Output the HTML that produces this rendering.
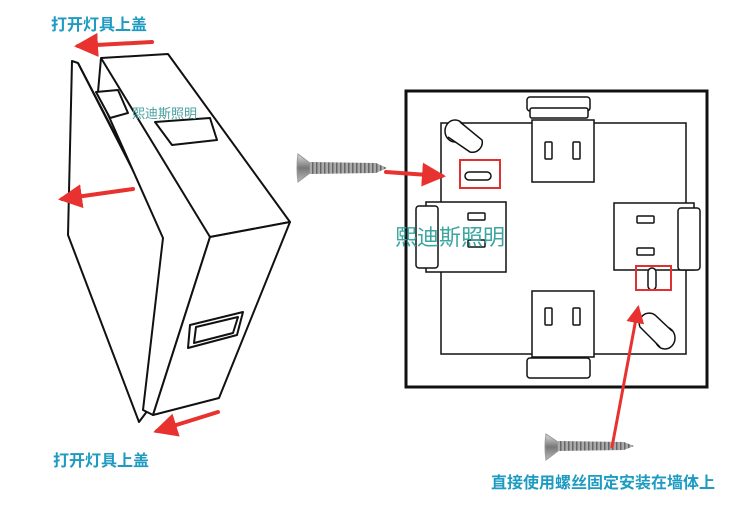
<!DOCTYPE html>
<html><head><meta charset="utf-8"><style>
body{margin:0;background:#fff;width:750px;height:511px;overflow:hidden}
svg{display:block}
text{font-family:"Liberation Sans","Noto Sans CJK SC",sans-serif}
</style></head><body>
<svg width="750" height="511" viewBox="0 0 750 511">
<defs>
<linearGradient id="sg" x1="0" y1="0" x2="0" y2="1"><stop offset="0" stop-color="#ddd"/><stop offset=".5" stop-color="#777"/><stop offset="1" stop-color="#bbb"/></linearGradient>
<pattern id="th" width="4" height="12" patternUnits="userSpaceOnUse"><rect width="4" height="12" fill="#aaa"/><rect width="1.5" height="12" fill="#666"/></pattern>
<marker id="ah" markerWidth="6" markerHeight="6" refX="5" refY="3" orient="auto" markerUnits="strokeWidth"><path d="M0,0 L6,3 L0,6 Z" fill="#e8322f"/></marker>
</defs>
<g fill="none" stroke="#111" stroke-width="2" stroke-linejoin="round">
<polygon points="72,61 68,235 139,422 148,410 166,235 78,63" fill="#fff"/>
<polyline points="78,63 168,236 150,412"/>
<polygon points="101,58 168,54 290,222 210,237 153,415 143,410 163,238 98,92" fill="#fff"/>
<polyline points="101,58 210,237"/>
<polygon points="210,237 290,222 219,398 153,415" fill="#fff"/>
<polygon points="96,92 118,90 128,113 110,118" fill="#fff"/>
<polygon points="155,122 210,118 217,140 172,145" fill="#fff"/>
<polygon points="190,325 243,312 237,335 188,348" fill="#fff"/>
<polygon points="196,327 238,317 233,333 194,343"/>
</g>
<g fill="#fff" stroke="#111" stroke-width="1.5">
<rect x="406" y="91" width="301" height="296" stroke-width="3"/>
<rect x="441" y="123" width="245" height="231"/>
<rect x="532" y="120" width="62" height="62"/>
<rect x="527" y="97" width="63" height="14" rx="3"/>
<rect x="530" y="108" width="58" height="10" rx="2"/>
<rect x="545" y="142" width="7" height="17" rx="1"/><rect x="573" y="142" width="7" height="17" rx="1"/>
<rect x="532" y="291" width="62" height="66"/>
<rect x="527" y="358" width="63" height="20" rx="3"/>
<rect x="545" y="308" width="7" height="17" rx="1"/><rect x="573" y="308" width="7" height="17" rx="1"/>
<rect x="426" y="202" width="80" height="70"/>
<rect x="416" y="206" width="22" height="62" rx="3"/>
<rect x="468" y="213" width="17" height="7" rx="1"/><rect x="468" y="240" width="17" height="7" rx="1"/>
<rect x="614" y="203" width="80" height="67"/>
<rect x="678" y="208" width="22" height="62" rx="3"/>
<rect x="637" y="216" width="17" height="7" rx="1"/><rect x="637" y="248" width="17" height="7" rx="1"/>
<ellipse cx="455" cy="131" rx="10" ry="11"/><path d="M460,122 L482,140 A10,10 0 0 1 470,152 L448,137"/>
<ellipse cx="665" cy="338" rx="10" ry="11"/><path d="M660,347 L640,327 A10,10 0 0 1 655,315 L672,331"/>
<rect x="465" y="172" width="26" height="8" rx="4"/>
<rect x="648" y="268" width="8" height="22" rx="4"/>
</g>
<rect x="460" y="160" width="40" height="28" fill="none" stroke="#e03030" stroke-width="2"/>
<rect x="636" y="266" width="35" height="24" fill="none" stroke="#e03030" stroke-width="2"/>
<g>
<path d="M298,154 Q296,168 298,182 L310,173 L310,163 Z" fill="url(#sg)" stroke="#999"/>
<path d="M310,162 L376,163 L387,168 L376,173 L310,174 Z" fill="url(#th)"/>
<path d="M546,434 Q544,447 546,460 L558,451 L558,442 Z" fill="url(#sg)" stroke="#999"/>
<path d="M558,441 L624,442 L634,446 L624,450 L558,451 Z" fill="url(#th)"/>
</g>
<g stroke="#e8322f" stroke-width="4" fill="none" stroke-linecap="round">
<line x1="152" y1="42" x2="78" y2="46" marker-end="url(#ah)"/>
<line x1="133" y1="189" x2="62" y2="199" marker-end="url(#ah)"/>
<line x1="218" y1="412" x2="157" y2="431" marker-end="url(#ah)"/>
<line x1="386" y1="172" x2="442" y2="176" marker-end="url(#ah)"/>
<line x1="612" y1="447" x2="638" y2="308" stroke-width="3" marker-end="url(#ah)"/>
</g>
<g fill="#1d9bc2" font-size="16" font-weight="bold">
<text x="51" y="30">打开灯具上盖</text>
<text x="53" y="466">打开灯具上盖</text>
<text x="491" y="488">直接使用螺丝固定安装在墙体上</text>
</g>
<text x="132" y="118" fill="#4a9fa0" font-size="13">熙迪斯照明</text>
<text x="395" y="245" fill="#3aa6a0" font-size="22">熙迪斯照明</text>
</svg>
</body></html>
